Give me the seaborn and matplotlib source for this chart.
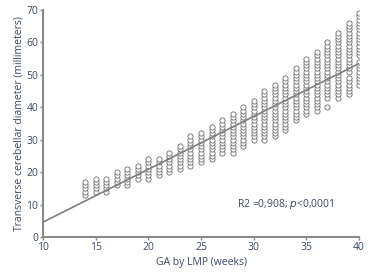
import numpy as np
import pandas as pd
import seaborn as sns
import matplotlib.pyplot as plt

# gestational age (weeks) and range of TCD readings (mm) per week
weeks = list(range(14, 41))
tcd_min = [13, 14, 14, 16, 16, 18, 18, 19, 20, 21, 22, 23, 24, 26, 26, 28,
           30, 30, 31, 33, 36, 38, 39, 40, 43, 44, 47]
tcd_max = [17, 18, 18, 20, 21, 22, 24, 24, 26, 28, 31, 32, 34, 36, 38, 40,
           42, 45, 47, 49, 52, 55, 57, 60, 63, 66, 69]
tcd_gaps = {37: [41, 42], 39: [50], 40: [55]}

# fitted line reported with the chart
reg_intercept = 4.6 - 1.63 * 10
reg_slope = 1.63
reg_text = 'R2 =0,908; $\\it{p}$<0,0001'

text_col = '#3d4a63'
axis_col = '#8a8a8a'

rows = []
for w, lo, hi in zip(weeks, tcd_min, tcd_max):
    for v in range(lo, hi + 1):
        if v not in tcd_gaps.get(w, []):
            rows.append((w, v))
df = pd.DataFrame(rows, columns=['ga', 'tcd'])

line_x = np.array([10, 40])
line_df = pd.DataFrame({'ga': line_x, 'tcd': reg_intercept + reg_slope * line_x})

sns.set_style('ticks')
plt.rcParams['font.family'] = ['Open Sans', 'DejaVu Sans']

fig = plt.figure(figsize=(3.8, 2.76), dpi=100)
ax = fig.add_axes([0.113, 0.141, 0.832, 0.823])

sns.scatterplot(data=df, x='ga', y='tcd', ax=ax, marker='o', s=14,
                facecolor='white', edgecolor='#6a6a6a', linewidth=0.6,
                zorder=2)
sns.lineplot(data=line_df, x='ga', y='tcd', ax=ax, color='#7f7f7f',
             linewidth=1.2, zorder=3)

ax.set_xlim(10, 40)
ax.set_ylim(0, 70)
ax.set_xticks(range(10, 41, 5))
ax.set_yticks(range(0, 71, 10))
ax.set_xlabel('GA by LMP (weeks)', fontsize=7.5, color=text_col, labelpad=3)
ax.set_ylabel('Transverse cerebellar diameter (millimeters)', fontsize=7.5,
              color=text_col, labelpad=1)
ax.tick_params(labelsize=7.5, labelcolor=text_col, color=axis_col,
               length=2.5, width=1, pad=1)
for side in ['top', 'right']:
    ax.spines[side].set_visible(False)
for side in ['left', 'bottom']:
    ax.spines[side].set_color(axis_col)
    ax.spines[side].set_linewidth(1.5)

ax.text(28.4, 10.2, reg_text, fontsize=7.5, color=text_col, va='center')

fig.savefig('out.png', dpi=100)
